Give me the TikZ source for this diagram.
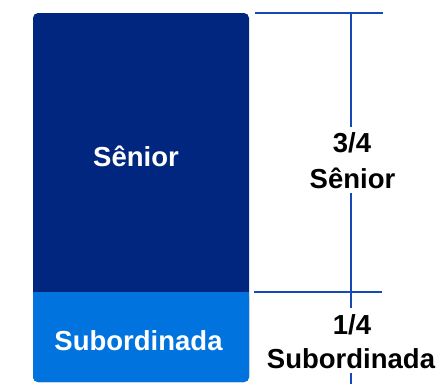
\documentclass[tikz,border=0pt]{standalone}
\usepackage{fontspec}
\setmainfont{Liberation Sans}
\definecolor{darkblue}{RGB}{0,38,128}
\definecolor{lightblue}{RGB}{0,115,222}
\definecolor{linecol}{RGB}{22,72,184}
\begin{document}
\begin{tikzpicture}[x=1pt,y=-1pt,
  lab/.style={anchor=base,inner sep=0pt,font=\fontsize{27.5}{30}\selectfont\bfseries},
  inlab/.style={lab,text=white},
  outlab/.style={lab,text=black},
  ruler/.style={draw=linecol,line width=2pt}]
\useasboundingbox (0,0) rectangle (438,383);
% boxes
\fill[darkblue,rounded corners=5pt] (33,13) rectangle (249,382);
\fill[lightblue] (33,292) rectangle (249,300);
\fill[lightblue,rounded corners=5pt] (33,292) rectangle (249,382);
% texts in boxes
\node[inlab] (sen) at (136,166) {Sênior};
\node[inlab] (sub) at (138.5,350) {Subordinada};
% right labels
\node[outlab] (f34) at (352,152) {3/4};
\node[outlab] (s34) at (352.5,188) {Sênior};
\node[outlab] (f14) at (352,334) {1/4};
\node[outlab] (s14) at (351,368) {Subordinada};
% ruler coordinates
\coordinate (tl) at (255,13);
\coordinate (tr) at (383,13);
\coordinate (tm) at (351,13);
\coordinate (bl) at (254,292);
\coordinate (br) at (382,292);
\coordinate (g1) at (351,127);
\coordinate (g2) at (351,193);
\coordinate (g3) at (351,308);
\coordinate (g4) at (351,373);
\coordinate (be) at (351,384);
\draw[ruler] (tl) -- (tr);
\draw[ruler] (bl) -- (br);
\draw[ruler] (tm) -- (g1);
\draw[ruler] (g2) -- (g3);
\draw[ruler] (g4) -- (be);
\end{tikzpicture}
\end{document}
